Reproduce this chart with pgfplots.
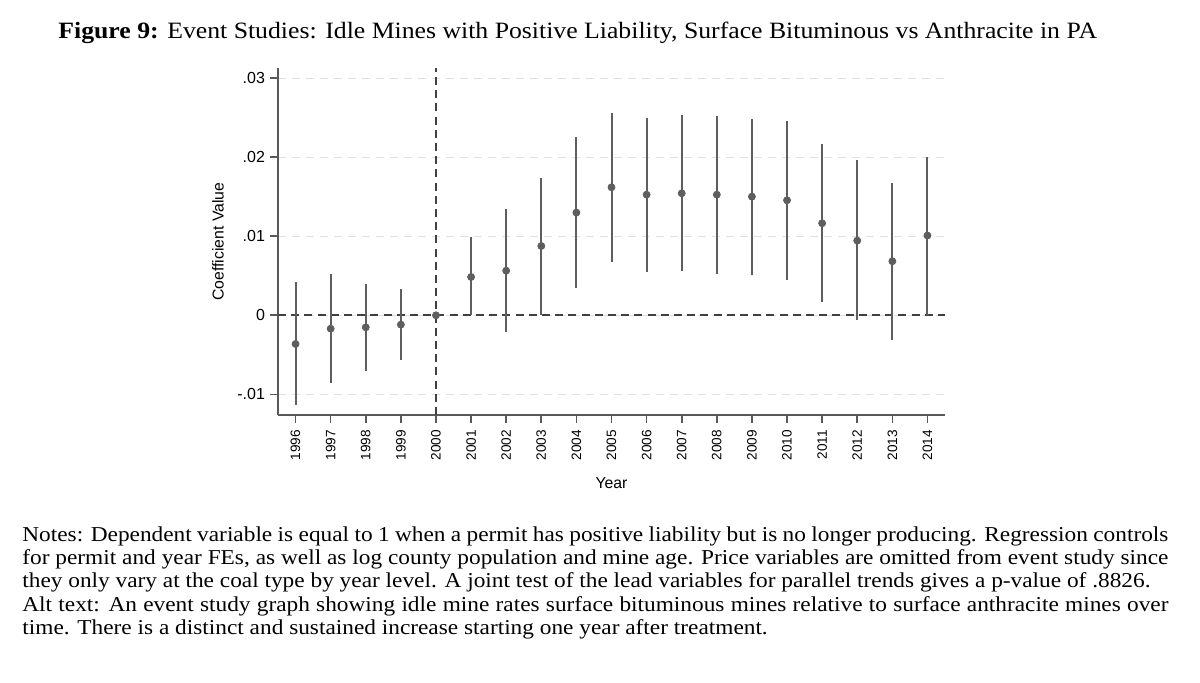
\documentclass[border=0pt]{standalone}
\usepackage{fontspec}
\setmainfont{Liberation Serif}[FakeStretch=1.1]
\newfontfamily\axfont{Liberation Sans}
\usepackage{pgfplots}
\pgfplotsset{compat=1.18}
\usepackage{pgfplotstable}
\definecolor{ptc}{HTML}{5E5E5E}
\definecolor{axc}{HTML}{5A5A5A}
\definecolor{gridc}{HTML}{E0E0E0}
\definecolor{refc}{HTML}{404040}

\pgfplotstableread{
year b lo hi
1996 -0.00363 -0.01140 0.00422
1997 -0.00169 -0.00857 0.00520
1998 -0.00152 -0.00705 0.00397
1999 -0.00118 -0.00570 0.00333
2000  0.00000  0.00000 0.00000
2001  0.00485  0.00000 0.00996
2002  0.00565 -0.00210 0.01340
2003  0.00877  0.00000 0.01740
2004  0.01300  0.00346 0.02257
2005  0.01620  0.00670 0.02565
2006  0.01527  0.00553 0.02498
2007  0.01544  0.00561 0.02532
2008  0.01527  0.00527 0.02523
2009  0.01502  0.00515 0.02490
2010  0.01456  0.00447 0.02460
2011  0.01165  0.00165 0.02165
2012  0.00945 -0.00060 0.01960
2013  0.00684 -0.00310 0.01680
2014  0.01010  0.00010 0.02004
}\est

\begin{document}
\begin{tikzpicture}
\path[use as bounding box] (0pt,0pt) rectangle (600pt,341pt);
\node[anchor=base west, inner sep=0, font=\fontsize{11.7}{13}\selectfont] at (29pt,321.85pt)
  {\textbf{Figure 9:} Event Studies: Idle Mines with Positive Liability, Surface Bituminous vs Anthracite in PA};
\begin{axis}[
  at={(139pt,133.5pt)}, anchor=south west, scale only axis,
  width=333.5pt, height=173.5pt,
  xmin=1995.5, xmax=2014.5, ymin=-0.01262, ymax=0.0313,
  axis lines=left, axis line style={-, color=axc, line width=0.8pt},
  tick align=outside, major tick length=4pt,
  tick style={color=axc, line width=0.8pt},
  xtick={1996,1997,1998,1999,2000,2001,2002,2003,2004,2005,2006,2007,2008,2009,2010,2011,2012,2013,2014},
  xticklabels={1996,1997,1998,1999,2000,2001,2002,2003,2004,2005,2006,2007,2008,2009,2010,2011,2012,2013,2014},
  ytick={-0.01,0,0.01,0.02,0.03},
  yticklabels={-.01,0,.01,.02,.03},
  scaled y ticks=false,
  x tick label style={rotate=90, anchor=east, font=\axfont\fontsize{6.8}{7.5}\selectfont},
  y tick label style={font=\axfont\fontsize{8}{9}\selectfont, xshift=1pt},
  ymajorgrids, grid style={dash pattern=on 4pt off 3pt, color=gridc, line width=0.6pt},
  xlabel={Year}, ylabel={Coefficient Value},
  xlabel style={at={(axis description cs:0.5,-0.196)}, anchor=center, font=\axfont\fontsize{7.9}{9}\selectfont},
  ylabel style={at={(axis description cs:-0.09,0.5)}, anchor=center, font=\axfont\fontsize{7.9}{9}\selectfont},
]
\addplot[refc, line width=0.9pt, dash pattern=on 4pt off 2.6pt] coordinates {(1995.5,0) (2014.5,0)};
\addplot[refc, line width=0.9pt, dash pattern=on 4pt off 2.6pt] coordinates {(2000,-0.01262) (2000,0.0313)};
\addplot[only marks, mark=*, mark size=1.75pt, color=ptc,
  error bars/.cd, y dir=both, y explicit, error mark=none,
  error bar style={line width=1pt, color=ptc}]
  table[x=year, y=b, y error plus expr=\thisrow{hi}-\thisrow{b}, y error minus expr=\thisrow{b}-\thisrow{lo}] {\est};
\end{axis}
\node[anchor=north west, inner sep=0, text width=573pt, align=justify, font=\fontsize{10.6}{11.65}\selectfont] at (11pt,77.95pt)
  {\noindent Notes: Dependent variable is equal to 1 when a permit has positive liability but is no longer producing. Regression controls\linebreak
  for permit and year FEs, as well as log county population and mine age. Price variables are omitted from event study since\linebreak
  they only vary at the coal type by year level. A joint test of the lead variables for parallel trends gives a p-value of .8826.\par
  \noindent Alt text: An event study graph showing idle mine rates surface bituminous mines relative to surface anthracite mines over\linebreak
  time. There is a distinct and sustained increase starting one year after treatment.};
\end{tikzpicture}
\end{document}
